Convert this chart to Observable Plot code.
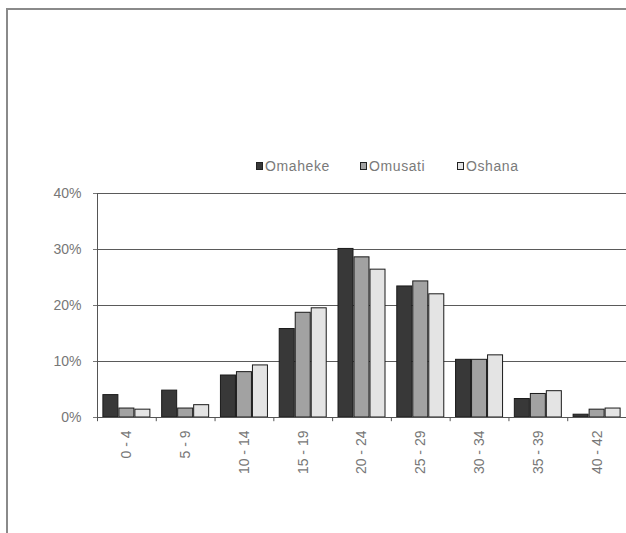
<!DOCTYPE html>
<html><head><meta charset="utf-8">
<script src="https://cdn.jsdelivr.net/npm/d3@7"></script>
<script src="https://cdn.jsdelivr.net/npm/@observablehq/plot@0.6"></script>
<style>
body{margin:0;background:#fff;font-family:"Liberation Sans",Arial,sans-serif;}
#wrap{position:relative;width:626px;height:533px;overflow:hidden;background:#fff;}
#frame{position:absolute;left:6px;top:8px;width:700px;height:600px;border-left:2px solid #8a8a8a;border-top:2px solid #8a8a8a;}
.item{position:absolute;top:158px;font-size:14px;color:#7a7a7a;letter-spacing:0.6px;white-space:nowrap;line-height:16px;}
.sw{display:inline-block;width:5px;height:6px;border:1px solid #222;margin-right:2px;vertical-align:1px;}
#chart{position:absolute;left:0;top:178px;}
</style></head>
<body>
<div id="wrap">
  <div id="frame"></div>
  <div id="legend"></div>
  <div id="chart"></div>
</div>
<script>
const groups = ["0 - 4","5 - 9","10 - 14","15 - 19","20 - 24","25 - 29","30 - 34","35 - 39","40 - 42"];
const seriesNames = ["Omaheke","Omusati","Oshana"];
const omaheke = [4.0, 4.8, 7.5, 15.8, 30.1, 23.4, 10.3, 3.3, 0.5];
const omusati = [1.6, 1.6, 8.1, 18.7, 28.6, 24.3, 10.3, 4.2, 1.4];
const oshana  = [1.4, 2.2, 9.3, 19.5, 26.4, 22.0, 11.1, 4.7, 1.6];
const yTicks = [0, 10, 20, 30, 40];
const colors = ["#383838", "#a2a2a2", "#e4e4e4"];

const seriesValues = [omaheke, omusati, oshana];
const rows = seriesValues.flatMap((vals, s) => groups.map((g, i) => ({group: g, series: seriesNames[s], value: vals[i]})));

// legend
const legend = document.getElementById("legend");
const legendX = [256, 360, 457];
seriesNames.forEach((n, i) => {
  const d = document.createElement("div");
  d.className = "item";
  d.style.left = legendX[i] + "px";
  d.innerHTML = `<span class="sw" style="background:${colors[i]}"></span>${n}`;
  legend.appendChild(d);
});

const W = 626, H = 355, mL = 97, mR = 0, mT = 15, mB = 116;
const bw = (W - mL - mR) / groups.length;
const barW = 16;

const marks = [
  Plot.gridY(yTicks.slice(1), {stroke: "#5a5a5a", strokeOpacity: 1, strokeWidth: 1}),
];
seriesNames.forEach((name, s) => {
  marks.push(Plot.barY(rows.filter(r => r.series === name), {
    x: "group", y: "value",
    fill: colors[s], stroke: "#1a1a1a", strokeWidth: 1,
    insetLeft: (bw - barW) / 2 + 0.5, insetRight: (bw - barW) / 2 + 0.5,
    dx: (s - 1) * barW
  }));
});
marks.push(
  Plot.ruleY([0], {stroke: "#555"}),
  Plot.ruleX([groups[0]], {dx: -bw / 2, y1: 0, y2: 40, stroke: "#555"}),
  Plot.ruleX(groups, {x: d => d, dx: -bw / 2, y1: 0, y2: -0.75, stroke: "#555"}),
  Plot.axisY({ticks: yTicks, tickFormat: d => d + "%", tickSize: 4, tickPadding: 12, fontSize: 14, color: "#777", label: null}),
  Plot.axisX({tickSize: 0, tickRotate: -90, tickPadding: 13, fontSize: 14, color: "#777", label: null})
);

const chart = Plot.plot({
  width: W, height: H,
  marginLeft: mL, marginRight: mR, marginTop: mT, marginBottom: mB,
  style: {fontFamily: "'Liberation Sans', Arial, sans-serif", background: "transparent", overflow: "visible"},
  x: {domain: groups, padding: 0, round: false, axis: null, label: null},
  y: {domain: [0, 40], axis: null, label: null},
  marks
});
document.getElementById("chart").appendChild(chart);
</script>
</body></html>
